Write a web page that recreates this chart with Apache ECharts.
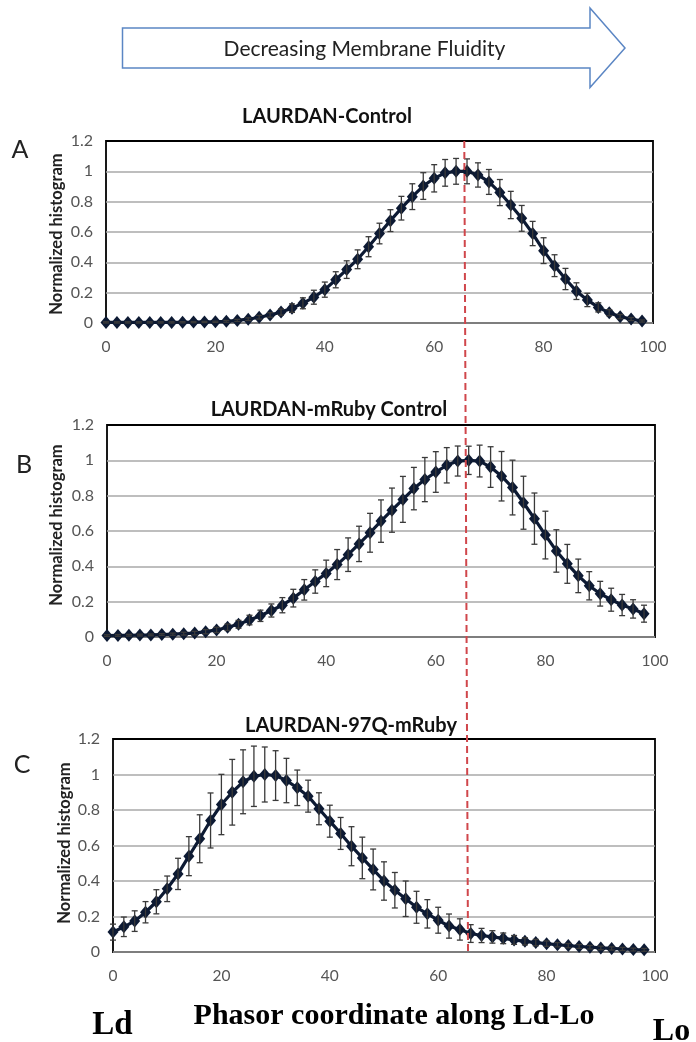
<!DOCTYPE html>
<html><head><meta charset="utf-8">
<script src="https://cdn.jsdelivr.net/npm/echarts@6/dist/echarts.min.js"></script>
<style>html,body{margin:0;padding:0;background:#fff}#c{width:696px;height:1042px}</style>
</head><body><div id="c"></div>
<script>
const xCoords = [0,2,4,6,8,10,12,14,16,18,20,22,24,26,28,30,32,34,36,38,40,42,44,46,48,50,52,54,56,58,60,62,64,66,68,70,72,74,76,78,80,82,84,86,88,90,92,94,96,98];
const xTicks = [0,20,40,60,80,100];
const yTicks = [0,0.2,0.4,0.6,0.8,1,1.2];
const titles = ['LAURDAN-Control','LAURDAN-mRuby Control','LAURDAN-97Q-mRuby'];
const panelLetters = ['A','B','C'];
const yAxisTitle = 'Normalized histogram';
const xAxisTitle = 'Phasor coordinate along Ld-Lo';
const endLabels = ['Ld','Lo'];
const arrowText = 'Decreasing Membrane Fluidity';
const markerX = 65.5;

const valuesA = [0.004,0.004,0.004,0.004,0.004,0.004,0.004,0.005,0.006,0.007,0.008,0.011,0.017,0.025,0.038,0.053,0.072,0.098,0.13,0.17,0.22,0.285,0.352,0.42,0.503,0.59,0.675,0.757,0.833,0.903,0.954,0.99,1.0,1.0,0.976,0.93,0.86,0.778,0.69,0.59,0.477,0.378,0.29,0.21,0.152,0.103,0.068,0.042,0.026,0.013];
const errA = [0.004,0.004,0.004,0.004,0.004,0.004,0.004,0.004,0.004,0.004,0.004,0.006,0.007,0.009,0.012,0.015,0.02,0.028,0.036,0.046,0.05,0.053,0.058,0.062,0.066,0.068,0.072,0.078,0.085,0.088,0.09,0.088,0.085,0.082,0.08,0.082,0.086,0.09,0.085,0.08,0.085,0.072,0.07,0.055,0.044,0.03,0.02,0.014,0.01,0.007];

const valuesB = [0.008,0.009,0.01,0.011,0.012,0.014,0.016,0.019,0.022,0.03,0.04,0.055,0.072,0.096,0.12,0.15,0.18,0.22,0.267,0.314,0.36,0.41,0.466,0.527,0.59,0.656,0.718,0.779,0.84,0.891,0.934,0.972,0.996,1.0,0.996,0.962,0.91,0.846,0.76,0.67,0.577,0.487,0.414,0.346,0.29,0.245,0.211,0.181,0.159,0.132];
const errB = [0.005,0.005,0.005,0.005,0.005,0.005,0.006,0.008,0.01,0.012,0.015,0.018,0.022,0.027,0.032,0.037,0.043,0.05,0.058,0.066,0.075,0.085,0.095,0.1,0.11,0.12,0.125,0.13,0.12,0.125,0.115,0.1,0.085,0.08,0.09,0.115,0.14,0.155,0.15,0.145,0.135,0.12,0.11,0.095,0.08,0.07,0.065,0.06,0.052,0.048];

const valuesC = [0.112,0.142,0.174,0.224,0.283,0.356,0.44,0.54,0.638,0.741,0.831,0.9,0.959,0.99,1.0,0.994,0.966,0.925,0.878,0.807,0.737,0.668,0.596,0.53,0.465,0.4,0.348,0.3,0.252,0.215,0.179,0.146,0.127,0.104,0.093,0.085,0.077,0.068,0.06,0.053,0.047,0.041,0.036,0.031,0.027,0.023,0.02,0.017,0.014,0.012];
const errC = [0.045,0.055,0.058,0.06,0.068,0.072,0.088,0.11,0.135,0.155,0.17,0.185,0.18,0.17,0.155,0.14,0.125,0.1,0.09,0.09,0.09,0.09,0.11,0.117,0.115,0.108,0.1,0.1,0.09,0.08,0.073,0.068,0.06,0.05,0.04,0.035,0.03,0.025,0.02,0.018,0.015,0.012,0.012,0.011,0.01,0.01,0.009,0.009,0.008,0.008];

const panels = [
  {values: valuesA, errs: errA},
  {values: valuesB, errs: errB},
  {values: valuesC, errs: errC}
];
const gridBoxes = [
  {left:106, top:141, width:547, height:182},
  {left:107, top:425, width:548, height:212},
  {left:113, top:739, width:542, height:213}
];
const titlePos = [[327,117],[329,410],[351,726]];
const letterPos = [[20,150],[24,465],[22,765]];
const yNamePos = [[57,234],[57,525],[65,843]];

const LINE = '#0d1a33';
const FONT = 'Lato, "Open Sans", sans-serif';

const chart = echarts.init(document.getElementById('c'), null, {renderer:'canvas'});

const grid = [], xAxis = [], yAxis = [], series = [];
panels.forEach((p, i) => {
  grid.push(Object.assign({show:true, borderColor:'#000', borderWidth:1.8, backgroundColor:'#fff', containLabel:false}, gridBoxes[i]));
  xAxis.push({gridIndex:i, type:'value', min:xTicks[0], max:xTicks[xTicks.length-1], interval:xTicks[1]-xTicks[0],
    axisLine:{show:false}, axisTick:{show:false}, splitLine:{show:false},
    axisLabel:{color:'#555', fontFamily:FONT, fontSize:15.5, margin:16}});
  yAxis.push({gridIndex:i, type:'value', min:yTicks[0], max:yTicks[yTicks.length-1], interval:yTicks[1]-yTicks[0],
    axisLine:{show:false}, axisTick:{show:false},
    splitLine:{show:true, showMaxLine:false, lineStyle:{color:'#a8a8a8', width:1.5}},
    axisLabel:{color:'#555', fontFamily:FONT, fontSize:16, margin:13}});
  const pts = xCoords.map((x, k) => [x, p.values[k]]);
  const errPts = xCoords.map((x, k) => [x, p.values[k], p.errs[k]]);
  series.push({
    type:'custom', xAxisIndex:i, yAxisIndex:i, data:errPts, z:4, silent:true,
    encode:{x:0, y:1},
    renderItem:(params, api) => {
      const x = api.value(0), y = api.value(1), e = api.value(2);
      const t = api.coord([x, y + e]);
      const b = api.coord([x, y - e]);
      const w = 3;
      const st = {stroke:'#3a3a3a', lineWidth:1.3};
      return {type:'group', children:[
        {type:'line', shape:{x1:t[0], y1:t[1], x2:b[0], y2:b[1]}, style:st},
        {type:'line', shape:{x1:t[0]-w, y1:t[1], x2:t[0]+w, y2:t[1]}, style:st},
        {type:'line', shape:{x1:b[0]-w, y1:b[1], x2:b[0]+w, y2:b[1]}, style:st}
      ]};
    }
  });
  series.push({
    type:'line', xAxisIndex:i, yAxisIndex:i, data:pts, z:3,
    symbol:'diamond', symbolSize:[11,13], showSymbol:true,
    lineStyle:{color:LINE, width:3.2}, itemStyle:{color:LINE}
  });
});

const graphic = [];
graphic.push({type:'polygon', shape:{points:[[122.5,28],[590,28],[590,8],[625,48],[590,87.5],[590,68],[122.5,68]]},
  style:{fill:'#fff', stroke:'#5b86c4', lineWidth:1.5}, z:1});
graphic.push({type:'text', x:364.5, y:49, style:{text:arrowText, fill:'#222', font:'21px ' + FONT, align:'center', verticalAlign:'middle'}, z:2});
panels.forEach((p, i) => {
  graphic.push({type:'text', x:titlePos[i][0], y:titlePos[i][1], style:{text:titles[i], fill:'#111', font:'bold 20px ' + FONT, align:'center', verticalAlign:'middle'}, z:30});
  graphic.push({type:'text', x:letterPos[i][0], y:letterPos[i][1], style:{text:panelLetters[i], fill:'#222', font:'25px ' + FONT, align:'center', verticalAlign:'middle'}, z:10});
  graphic.push({type:'text', x:yNamePos[i][0], y:yNamePos[i][1], rotation:Math.PI/2, style:{text:yAxisTitle, fill:'#222', font:'bold 16.5px ' + FONT, align:'center', verticalAlign:'middle'}, z:10});
});
const SERIF = '"Liberation Serif", "Times New Roman", serif';
graphic.push({type:'text', x:112.5, y:1025, style:{text:endLabels[0], fill:'#000', font:'bold 33px ' + SERIF, align:'center', verticalAlign:'middle'}, z:10});
graphic.push({type:'text', x:394, y:1016, style:{text:xAxisTitle, fill:'#000', font:'bold 30px ' + SERIF, align:'center', verticalAlign:'middle'}, z:10});
graphic.push({type:'text', x:671.5, y:1032, style:{text:endLabels[1], fill:'#000', font:'bold 32px ' + SERIF, align:'center', verticalAlign:'middle'}, z:10});

chart.setOption({animation:false, backgroundColor:'#fff', grid, xAxis, yAxis, series, graphic});

const p1 = chart.convertToPixel({gridIndex:0}, [markerX, yTicks[yTicks.length-1]]);
const p2 = chart.convertToPixel({gridIndex:2}, [markerX, yTicks[0]]);
graphic.push({type:'line', shape:{x1:p1[0], y1:p1[1], x2:p2[0], y2:p2[1]},
  style:{stroke:'#d0464b', lineWidth:2, lineDash:[7,4]}, z:20});
chart.setOption({graphic});
</script></body></html>
